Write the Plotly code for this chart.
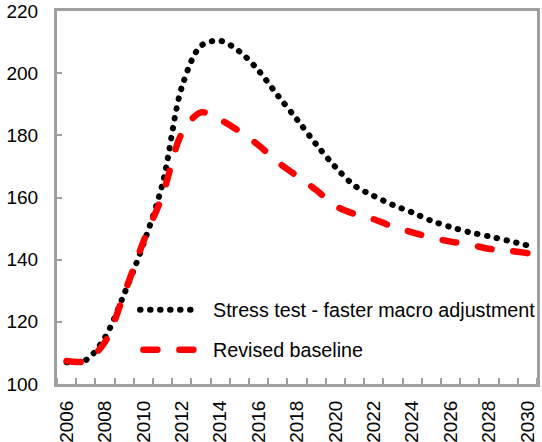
import plotly.graph_objects as go

years = list(range(2006, 2031))
stress = [107.0, 107.7, 115.0, 129.0, 145.0, 164.5, 195.5, 208.8, 210.4, 207.0,
          200.8, 192.8, 185.1, 177.1, 169.8, 163.8, 160.5, 157.6, 155.2, 152.5,
          150.5, 148.8, 147.5, 146.1, 144.6]
baseline = [107.4, 107.4, 113.5, 129.0, 145.8, 160.8, 180.6, 187.4, 185.0, 181.3,
            176.8, 171.4, 166.9, 162.4, 157.3, 154.7, 153.0, 150.6, 148.8, 147.1,
            145.8, 144.8, 143.5, 142.9, 142.1]
names = ["Stress test - faster macro adjustment", "Revised baseline"]
xlabels = [str(y) for y in range(2006, 2031, 2)]

FONT = "Liberation Sans, Arial, sans-serif"
GRAY = "#a0a0a0"
DOT = "0.5px,9.5px"
DASH = "14px,22px"

fig = go.Figure()
fig.add_trace(go.Scatter(x=years, y=stress, mode="lines", name=names[0],
                         line=dict(color="black", width=6, dash=DOT, shape="spline", smoothing=0.9),
                         showlegend=False))
fig.add_trace(go.Scatter(x=years, y=baseline, mode="lines", name=names[1],
                         line=dict(color="#ff0000", width=6.5, dash=DASH, shape="spline", smoothing=0.9),
                         showlegend=False))

# legend drawn manually (longer samples, like the original)
fig.add_shape(type="line", xref="paper", yref="paper", x0=0.173, x1=0.292, y0=0.199, y1=0.199,
              line=dict(color="black", width=6, dash=DOT))
fig.add_shape(type="line", xref="paper", yref="paper", x0=0.18, x1=0.295, y0=0.092, y1=0.092,
              line=dict(color="#ff0000", width=6.5, dash=DASH))
fig.add_annotation(xref="paper", yref="paper", x=0.32, y=0.199, text=names[0], showarrow=False,
                   xanchor="left", yanchor="middle", font=dict(family=FONT, size=19.7, color="black"))
fig.add_annotation(xref="paper", yref="paper", x=0.32, y=0.092, text=names[1], showarrow=False,
                   xanchor="left", yanchor="middle", font=dict(family=FONT, size=19.7, color="black"))

fig.update_layout(
    width=542, height=442,
    margin=dict(l=57, r=5, t=11, b=58, autoexpand=False),
    paper_bgcolor="white", plot_bgcolor="white",
    font=dict(family=FONT, size=19, color="black"),
    xaxis=dict(range=[2005.5, 2030.5], tickmode="array",
               tickvals=list(range(2006, 2031, 2)), ticktext=xlabels,
               tickangle=-90, ticks="", showgrid=False, zeroline=False,
               showline=True, mirror=True, linecolor=GRAY, linewidth=3,
               ticklabelstandoff=6, automargin=False,
               minor=dict(ticks="inside", tick0=2006.5, dtick=1, ticklen=6,
                          tickcolor=GRAY, tickwidth=2, showgrid=False)),
    yaxis=dict(range=[100, 220], dtick=20, ticks="inside", ticklen=5,
               tickcolor=GRAY, tickwidth=2, showgrid=False, zeroline=False,
               showline=True, mirror=True, linecolor=GRAY, linewidth=3,
               ticklabelstandoff=12, automargin=False),
)

post = """
document.body.style.margin = '0';
document.body.style.padding = '0';
document.querySelectorAll('.scatterlayer path.js-line, .shapelayer path').forEach(function(p){
  p.style.strokeLinecap = 'round';
});
"""
fig.write_html("out.html", post_script=post, config={"displayModeBar": False})
